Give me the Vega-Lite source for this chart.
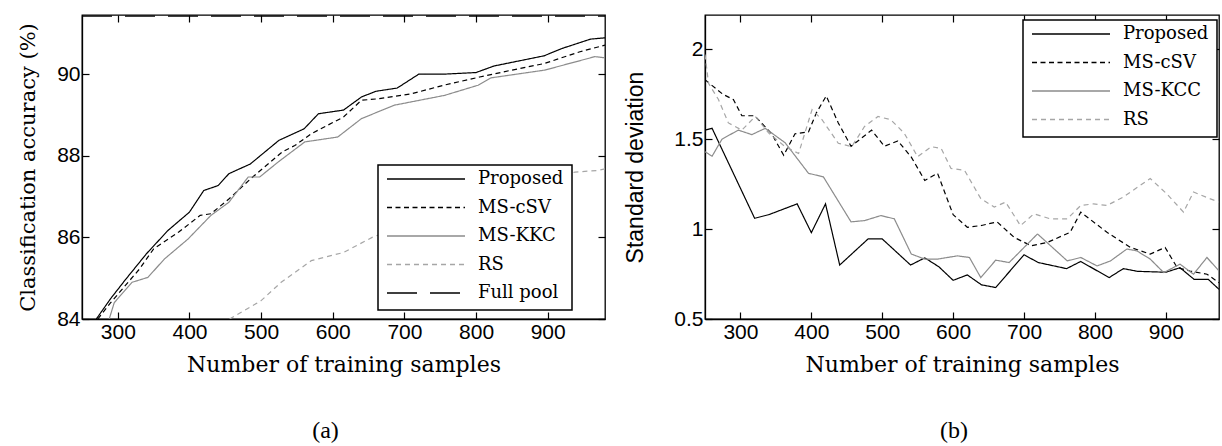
{
 "$schema": "https://vega.github.io/schema/vega-lite/v6.json",
 "background": "white",
 "padding": {"left": 16, "top": 13, "right": 0, "bottom": 0},
 "spacing": 17,
 "datasets": {
  "acc": [
   {"n":270,"v":84.0,"method":"Proposed"},{"n":290,"v":84.5,"method":"Proposed"},{"n":310,"v":84.95,"method":"Proposed"},{"n":340,"v":85.6,"method":"Proposed"},{"n":370,"v":86.17,"method":"Proposed"},{"n":400,"v":86.62,"method":"Proposed"},{"n":420,"v":87.15,"method":"Proposed"},{"n":440,"v":87.27,"method":"Proposed"},{"n":455,"v":87.56,"method":"Proposed"},{"n":485,"v":87.8,"method":"Proposed"},{"n":505,"v":88.09,"method":"Proposed"},{"n":525,"v":88.38,"method":"Proposed"},{"n":560,"v":88.66,"method":"Proposed"},{"n":580,"v":89.03,"method":"Proposed"},{"n":615,"v":89.12,"method":"Proposed"},{"n":640,"v":89.44,"method":"Proposed"},{"n":660,"v":89.58,"method":"Proposed"},{"n":690,"v":89.66,"method":"Proposed"},{"n":720,"v":90.0,"method":"Proposed"},{"n":755,"v":90.0,"method":"Proposed"},{"n":800,"v":90.04,"method":"Proposed"},{"n":825,"v":90.2,"method":"Proposed"},{"n":895,"v":90.45,"method":"Proposed"},{"n":920,"v":90.63,"method":"Proposed"},{"n":960,"v":90.86,"method":"Proposed"},{"n":980,"v":90.89,"method":"Proposed"},
   {"n":272,"v":84.0,"method":"MS-cSV"},{"n":290,"v":84.4,"method":"MS-cSV"},{"n":330,"v":85.22,"method":"MS-cSV"},{"n":350,"v":85.72,"method":"MS-cSV"},{"n":385,"v":86.13,"method":"MS-cSV"},{"n":415,"v":86.54,"method":"MS-cSV"},{"n":430,"v":86.58,"method":"MS-cSV"},{"n":455,"v":86.94,"method":"MS-cSV"},{"n":485,"v":87.43,"method":"MS-cSV"},{"n":530,"v":88.1,"method":"MS-cSV"},{"n":547,"v":88.25,"method":"MS-cSV"},{"n":570,"v":88.54,"method":"MS-cSV"},{"n":615,"v":88.95,"method":"MS-cSV"},{"n":640,"v":89.36,"method":"MS-cSV"},{"n":665,"v":89.4,"method":"MS-cSV"},{"n":710,"v":89.52,"method":"MS-cSV"},{"n":755,"v":89.73,"method":"MS-cSV"},{"n":805,"v":89.93,"method":"MS-cSV"},{"n":850,"v":90.1,"method":"MS-cSV"},{"n":895,"v":90.26,"method":"MS-cSV"},{"n":945,"v":90.55,"method":"MS-cSV"},{"n":980,"v":90.71,"method":"MS-cSV"},
   {"n":288,"v":84.0,"method":"MS-KKC"},{"n":295,"v":84.4,"method":"MS-KKC"},{"n":320,"v":84.9,"method":"MS-KKC"},{"n":342,"v":85.02,"method":"MS-KKC"},{"n":365,"v":85.47,"method":"MS-KKC"},{"n":398,"v":85.96,"method":"MS-KKC"},{"n":430,"v":86.54,"method":"MS-KKC"},{"n":455,"v":86.86,"method":"MS-KKC"},{"n":482,"v":87.48,"method":"MS-KKC"},{"n":498,"v":87.48,"method":"MS-KKC"},{"n":524,"v":87.85,"method":"MS-KKC"},{"n":561,"v":88.34,"method":"MS-KKC"},{"n":607,"v":88.46,"method":"MS-KKC"},{"n":640,"v":88.91,"method":"MS-KKC"},{"n":686,"v":89.24,"method":"MS-KKC"},{"n":756,"v":89.48,"method":"MS-KKC"},{"n":803,"v":89.73,"method":"MS-KKC"},{"n":821,"v":89.91,"method":"MS-KKC"},{"n":896,"v":90.1,"method":"MS-KKC"},{"n":966,"v":90.43,"method":"MS-KKC"},{"n":980,"v":90.4,"method":"MS-KKC"},
   {"n":456,"v":84.0,"method":"RS"},{"n":500,"v":84.45,"method":"RS"},{"n":528,"v":84.9,"method":"RS"},{"n":570,"v":85.43,"method":"RS"},{"n":615,"v":85.63,"method":"RS"},{"n":655,"v":86.0,"method":"RS"},{"n":700,"v":86.3,"method":"RS"},{"n":750,"v":86.6,"method":"RS"},{"n":800,"v":86.9,"method":"RS"},{"n":850,"v":87.15,"method":"RS"},{"n":900,"v":87.4,"method":"RS"},{"n":938,"v":87.6,"method":"RS"},{"n":970,"v":87.64,"method":"RS"},{"n":980,"v":87.68,"method":"RS"},
   {"n":250,"v":91.42,"method":"Full pool"},{"n":980,"v":91.42,"method":"Full pool"}
  ],
  "sd": [
   {"n":250,"v":1.55,"method":"Proposed"},{"n":260,"v":1.56,"method":"Proposed"},{"n":320,"v":1.06,"method":"Proposed"},{"n":340,"v":1.08,"method":"Proposed"},{"n":380,"v":1.14,"method":"Proposed"},{"n":400,"v":0.98,"method":"Proposed"},{"n":420,"v":1.14,"method":"Proposed"},{"n":440,"v":0.8,"method":"Proposed"},{"n":480,"v":0.945,"method":"Proposed"},{"n":500,"v":0.945,"method":"Proposed"},{"n":540,"v":0.8,"method":"Proposed"},{"n":560,"v":0.84,"method":"Proposed"},{"n":580,"v":0.79,"method":"Proposed"},{"n":600,"v":0.715,"method":"Proposed"},{"n":620,"v":0.745,"method":"Proposed"},{"n":640,"v":0.69,"method":"Proposed"},{"n":660,"v":0.675,"method":"Proposed"},{"n":700,"v":0.857,"method":"Proposed"},{"n":720,"v":0.814,"method":"Proposed"},{"n":760,"v":0.78,"method":"Proposed"},{"n":780,"v":0.82,"method":"Proposed"},{"n":820,"v":0.73,"method":"Proposed"},{"n":840,"v":0.78,"method":"Proposed"},{"n":860,"v":0.765,"method":"Proposed"},{"n":900,"v":0.76,"method":"Proposed"},{"n":920,"v":0.785,"method":"Proposed"},{"n":940,"v":0.72,"method":"Proposed"},{"n":960,"v":0.72,"method":"Proposed"},{"n":975,"v":0.665,"method":"Proposed"},
   {"n":250,"v":1.83,"method":"MS-cSV"},{"n":275,"v":1.75,"method":"MS-cSV"},{"n":290,"v":1.72,"method":"MS-cSV"},{"n":302,"v":1.63,"method":"MS-cSV"},{"n":320,"v":1.63,"method":"MS-cSV"},{"n":344,"v":1.53,"method":"MS-cSV"},{"n":361,"v":1.41,"method":"MS-cSV"},{"n":377,"v":1.53,"method":"MS-cSV"},{"n":396,"v":1.54,"method":"MS-cSV"},{"n":407,"v":1.645,"method":"MS-cSV"},{"n":421,"v":1.74,"method":"MS-cSV"},{"n":438,"v":1.59,"method":"MS-cSV"},{"n":456,"v":1.46,"method":"MS-cSV"},{"n":485,"v":1.55,"method":"MS-cSV"},{"n":503,"v":1.46,"method":"MS-cSV"},{"n":522,"v":1.49,"method":"MS-cSV"},{"n":541,"v":1.4,"method":"MS-cSV"},{"n":560,"v":1.27,"method":"MS-cSV"},{"n":578,"v":1.31,"method":"MS-cSV"},{"n":600,"v":1.08,"method":"MS-cSV"},{"n":620,"v":1.01,"method":"MS-cSV"},{"n":640,"v":1.02,"method":"MS-cSV"},{"n":662,"v":1.04,"method":"MS-cSV"},{"n":686,"v":0.954,"method":"MS-cSV"},{"n":710,"v":0.907,"method":"MS-cSV"},{"n":733,"v":0.926,"method":"MS-cSV"},{"n":765,"v":0.982,"method":"MS-cSV"},{"n":780,"v":1.094,"method":"MS-cSV"},{"n":817,"v":0.982,"method":"MS-cSV"},{"n":850,"v":0.898,"method":"MS-cSV"},{"n":878,"v":0.861,"method":"MS-cSV"},{"n":899,"v":0.898,"method":"MS-cSV"},{"n":916,"v":0.786,"method":"MS-cSV"},{"n":934,"v":0.767,"method":"MS-cSV"},{"n":958,"v":0.749,"method":"MS-cSV"},{"n":975,"v":0.702,"method":"MS-cSV"},
   {"n":250,"v":1.43,"method":"MS-KCC"},{"n":260,"v":1.405,"method":"MS-KCC"},{"n":274,"v":1.5,"method":"MS-KCC"},{"n":297,"v":1.55,"method":"MS-KCC"},{"n":316,"v":1.525,"method":"MS-KCC"},{"n":335,"v":1.56,"method":"MS-KCC"},{"n":363,"v":1.48,"method":"MS-KCC"},{"n":396,"v":1.31,"method":"MS-KCC"},{"n":417,"v":1.29,"method":"MS-KCC"},{"n":456,"v":1.04,"method":"MS-KCC"},{"n":475,"v":1.047,"method":"MS-KCC"},{"n":498,"v":1.075,"method":"MS-KCC"},{"n":517,"v":1.057,"method":"MS-KCC"},{"n":541,"v":0.861,"method":"MS-KCC"},{"n":560,"v":0.833,"method":"MS-KCC"},{"n":578,"v":0.833,"method":"MS-KCC"},{"n":606,"v":0.851,"method":"MS-KCC"},{"n":623,"v":0.842,"method":"MS-KCC"},{"n":639,"v":0.73,"method":"MS-KCC"},{"n":660,"v":0.827,"method":"MS-KCC"},{"n":679,"v":0.814,"method":"MS-KCC"},{"n":719,"v":0.973,"method":"MS-KCC"},{"n":761,"v":0.823,"method":"MS-KCC"},{"n":780,"v":0.842,"method":"MS-KCC"},{"n":803,"v":0.795,"method":"MS-KCC"},{"n":822,"v":0.823,"method":"MS-KCC"},{"n":845,"v":0.889,"method":"MS-KCC"},{"n":859,"v":0.879,"method":"MS-KCC"},{"n":878,"v":0.833,"method":"MS-KCC"},{"n":897,"v":0.758,"method":"MS-KCC"},{"n":920,"v":0.805,"method":"MS-KCC"},{"n":939,"v":0.749,"method":"MS-KCC"},{"n":958,"v":0.842,"method":"MS-KCC"},{"n":975,"v":0.767,"method":"MS-KCC"},
   {"n":250,"v":1.97,"method":"RS"},{"n":255,"v":1.81,"method":"RS"},{"n":269,"v":1.72,"method":"RS"},{"n":283,"v":1.59,"method":"RS"},{"n":302,"v":1.55,"method":"RS"},{"n":321,"v":1.626,"method":"RS"},{"n":340,"v":1.533,"method":"RS"},{"n":363,"v":1.458,"method":"RS"},{"n":382,"v":1.42,"method":"RS"},{"n":401,"v":1.664,"method":"RS"},{"n":415,"v":1.608,"method":"RS"},{"n":438,"v":1.477,"method":"RS"},{"n":457,"v":1.458,"method":"RS"},{"n":475,"v":1.57,"method":"RS"},{"n":494,"v":1.626,"method":"RS"},{"n":512,"v":1.608,"method":"RS"},{"n":531,"v":1.533,"method":"RS"},{"n":550,"v":1.402,"method":"RS"},{"n":569,"v":1.458,"method":"RS"},{"n":583,"v":1.449,"method":"RS"},{"n":597,"v":1.337,"method":"RS"},{"n":616,"v":1.327,"method":"RS"},{"n":639,"v":1.169,"method":"RS"},{"n":658,"v":1.122,"method":"RS"},{"n":674,"v":1.15,"method":"RS"},{"n":695,"v":1.019,"method":"RS"},{"n":714,"v":1.085,"method":"RS"},{"n":737,"v":1.057,"method":"RS"},{"n":761,"v":1.057,"method":"RS"},{"n":780,"v":1.131,"method":"RS"},{"n":798,"v":1.14,"method":"RS"},{"n":817,"v":1.131,"method":"RS"},{"n":840,"v":1.178,"method":"RS"},{"n":878,"v":1.281,"method":"RS"},{"n":901,"v":1.197,"method":"RS"},{"n":925,"v":1.094,"method":"RS"},{"n":939,"v":1.206,"method":"RS"},{"n":962,"v":1.169,"method":"RS"},{"n":975,"v":1.15,"method":"RS"}
  ]
 },
 "hconcat": [
  {
   "width": 523,
   "height": 304,
   "data": {"name": "acc"},
   "title": {"text": "(a)", "orient": "bottom", "offset": 44, "dx": -18, "frame": "group"},
   "resolve": {"axis": {"x": "independent", "y": "independent"}},
   "layer": [
    {
     "mark": {"type": "line", "clip": true, "strokeWidth": 1.2},
     "encoding": {
      "x": {"field": "n", "type": "quantitative", "scale": {"domain": [250, 980], "nice": false, "zero": false},
            "axis": {"orient": "bottom", "values": [300, 400, 500, 600, 700, 800, 900], "title": "Number of training samples"}},
      "y": {"field": "v", "type": "quantitative", "scale": {"domain": [84, 91.45], "nice": false, "zero": false},
            "axis": {"orient": "left", "values": [84, 86, 88, 90], "title": "Classification accuracy (%)", "titleFontSize": 21, "titlePadding": 18}},
      "color": {"field": "method", "type": "nominal",
                "scale": {"domain": ["Proposed", "MS-cSV", "MS-KKC", "RS", "Full pool"], "range": ["#000000", "#000000", "#8c8c8c", "#a6a6a6", "#000000"]},
                "legend": {"orient": "none", "legendX": 296, "legendY": 150}},
      "strokeDash": {"field": "method", "type": "nominal",
                "scale": {"domain": ["Proposed", "MS-cSV", "MS-KKC", "RS", "Full pool"], "range": [[1, 0], [5, 3.5], [1, 0], [5, 4], [30, 13]]}}
     }
    },
    {
     "mark": {"type": "point", "opacity": 0, "size": 0},
     "encoding": {
      "x": {"field": "n", "type": "quantitative", "scale": {"domain": [250, 980], "nice": false, "zero": false},
            "axis": {"orient": "top", "values": [300, 400, 500, 600, 700, 800, 900], "labels": false, "title": null, "domain": false}},
      "y": {"field": "v", "type": "quantitative", "scale": {"domain": [84, 91.45], "nice": false, "zero": false},
            "axis": {"orient": "right", "values": [84, 86, 88, 90], "labels": false, "title": null, "domain": false}}
     }
    }
   ]
  },
  {
   "width": 514,
   "height": 304,
   "data": {"name": "sd"},
   "title": {"text": "(b)", "orient": "bottom", "offset": 44, "dx": -8, "frame": "group"},
   "resolve": {"axis": {"x": "independent", "y": "independent"}},
   "layer": [
    {
     "mark": {"type": "line", "clip": true, "strokeWidth": 1.2},
     "encoding": {
      "x": {"field": "n", "type": "quantitative", "scale": {"domain": [250, 975], "nice": false, "zero": false},
            "axis": {"orient": "bottom", "values": [300, 400, 500, 600, 700, 800, 900], "title": "Number of training samples"}},
      "y": {"field": "v", "type": "quantitative", "scale": {"domain": [0.5, 2.19], "nice": false, "zero": false},
            "axis": {"orient": "left", "values": [0.5, 1, 1.5, 2], "labelExpr": "'' + datum.value", "title": "Standard deviation", "titleFont": "Liberation Sans", "titleFontSize": 23, "titlePadding": 26}},
      "color": {"field": "method", "type": "nominal",
                "scale": {"domain": ["Proposed", "MS-cSV", "MS-KCC", "RS"], "range": ["#000000", "#000000", "#8c8c8c", "#a6a6a6"]},
                "legend": {"orient": "none", "legendX": 318, "legendY": 5}},
      "strokeDash": {"field": "method", "type": "nominal",
                "scale": {"domain": ["Proposed", "MS-cSV", "MS-KCC", "RS"], "range": [[1, 0], [5, 3.5], [1, 0], [5, 4]]}}
     }
    },
    {
     "mark": {"type": "point", "opacity": 0, "size": 0},
     "encoding": {
      "x": {"field": "n", "type": "quantitative", "scale": {"domain": [250, 975], "nice": false, "zero": false},
            "axis": {"orient": "top", "values": [300, 400, 500, 600, 700, 800, 900], "labels": false, "title": null, "domain": false}},
      "y": {"field": "v", "type": "quantitative", "scale": {"domain": [0.5, 2.19], "nice": false, "zero": false},
            "axis": {"orient": "right", "values": [0.5, 1, 1.5, 2], "labels": false, "title": null, "domain": false}}
     }
    }
   ]
  }
 ],
 "resolve": {"scale": {"color": "independent", "strokeDash": "independent"}},
 "config": {
  "view": {"stroke": "black", "strokeWidth": 1.3},
  "axis": {"grid": false, "domainColor": "black", "domainWidth": 1.3, "tickColor": "black", "tickWidth": 1.2, "tickSize": -7,
           "labelFont": "Liberation Sans", "labelFontSize": 21, "labelColor": "black", "labelPadding": 9, "labelFlush": false,
           "titleFont": "DejaVu Serif", "titleFontSize": 22, "titleFontWeight": "normal", "titleColor": "black", "titlePadding": 12},
  "legend": {"title": null, "symbolType": "stroke", "symbolSize": 6084, "symbolStrokeWidth": 1.3, "clipHeight": 12, "rowPadding": 10.5,
             "padding": 8, "labelOffset": 12, "labelFont": "DejaVu Serif", "labelFontSize": 18, "labelColor": "black",
             "strokeColor": "black", "strokeWidth": 1.5, "fillColor": "white", "cornerRadius": 0, "labelLimit": 220},
  "title": {"font": "Liberation Serif", "fontSize": 24, "fontWeight": "normal", "color": "black"}
 }
}
